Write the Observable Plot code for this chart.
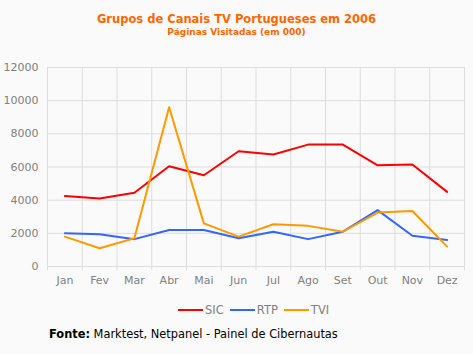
<!DOCTYPE html>
<html><head><meta charset="utf-8">
<script src="https://cdn.jsdelivr.net/npm/d3@7"></script>
<script src="https://cdn.jsdelivr.net/npm/@observablehq/plot@0.6"></script>
<style>
body{margin:0;background:#fafafa;font-family:"DejaVu Sans",Verdana,sans-serif;}
#wrap{position:relative;width:473px;height:354px;background:#fafafa;overflow:hidden;}
.t{position:absolute;left:0;width:473px;text-align:center;color:#ff6600;font-weight:bold;white-space:nowrap;}
#chart{position:absolute;left:0;top:50px;}
#legend{position:absolute;top:303px;left:175px;display:flex;font-size:11.5px;color:#808080;white-space:nowrap;line-height:14px;}
#legend span.sw{display:inline-block;width:25px;height:2px;vertical-align:middle;margin-right:2px;margin-top:-1px;}
#legend span.item{margin:0 3px;}
#fonte{position:absolute;left:49px;top:327px;font-size:11.4px;color:#000;white-space:nowrap;}
</style></head>
<body><div id="wrap">
<div class="t" style="top:12px;font-size:11.5px;">Grupos de Canais TV Portugueses em 2006</div>
<div class="t" style="top:27px;font-size:9px;">Páginas Visitadas (em 000)</div>
<div id="chart"></div>
<div id="legend"></div>
<div id="fonte"><b>Fonte:</b> Marktest, Netpanel - Painel de Cibernautas</div>
</div>
<script>
const months = ["Jan","Fev","Mar","Abr","Mai","Jun","Jul","Ago","Set","Out","Nov","Dez"];
const series = ["SIC","RTP","TVI"];
const colors = ["#ff0000","#3366ff","#ff9900"];
const sic = [4250,4100,4450,6050,5500,6950,6750,7350,7350,6100,6150,4500];
const rtp = [2000,1950,1650,2200,2200,1700,2100,1650,2100,3400,1850,1600];
const tvi = [1800,1100,1700,9600,2600,1800,2550,2450,2100,3250,3350,1200];
const yTicks = [0,2000,4000,6000,8000,10000,12000];

const vals = [sic, rtp, tvi];
const data = [];
series.forEach((s, k) => vals[k].forEach((v, i) => data.push({series: s, i, month: months[i], value: v})));
const idx = months.map((m, i) => i);
const bounds = d3.range(-0.5, 12, 1);

const plot = Plot.plot({
  width: 473, height: 245,
  marginLeft: 47, marginRight: 9, marginTop: 17, marginBottom: 29,
  style: {background: "transparent", fontFamily: "DejaVu Sans, Verdana, sans-serif", fontSize: "11px", color: "#808080"},
  x: {type: "linear", domain: [-0.5, 11.5]},
  y: {domain: [0, 12000]},
  color: {domain: series, range: colors},
  marks: [
    Plot.gridY(yTicks, {stroke: "#dddddd", strokeOpacity: 1, strokeWidth: 1}),
    Plot.gridX(bounds, {stroke: "#dddddd", strokeOpacity: 1, strokeWidth: 1}),
    Plot.axisX(bounds, {tickSize: 4, stroke: "#dddddd", tickFormat: () => "", label: null}),
    Plot.axisX(idx, {tickSize: 0, tickPadding: 10, tickFormat: i => months[i], fill: "#808080", fontSize: 11, label: null}),
    Plot.axisY(yTicks, {tickSize: 0, tickPadding: 9, fill: "#808080", fontSize: 11, label: null, tickFormat: d => String(d)}),
    Plot.line(data, {x: "i", y: "value", z: "series", stroke: "series", strokeWidth: 2, curve: "linear"})
  ]
});
document.getElementById("chart").appendChild(plot);

const lg = document.getElementById("legend");
series.forEach((s, k) => {
  const it = document.createElement("span");
  it.className = "item";
  it.innerHTML = `<span class="sw" style="background:${colors[k]}"></span>${s}`;
  lg.appendChild(it);
});
</script>
</body></html>
